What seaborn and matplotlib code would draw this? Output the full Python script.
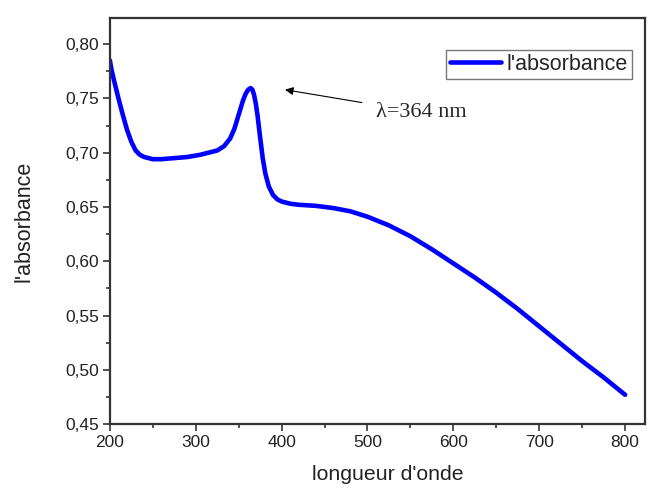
import matplotlib
matplotlib.use("Agg")
import matplotlib.pyplot as plt
import seaborn as sns
import pandas as pd
from matplotlib.ticker import FuncFormatter, MultipleLocator

wavelength = [200, 202, 205, 210, 215, 220, 225, 230, 235, 240, 245, 250, 260, 275,
              290, 305, 315, 325, 333, 340, 345, 350, 355, 358, 361, 364, 366,
              368, 370, 372, 375, 378, 381, 385, 390, 395, 400, 410, 420, 440, 460,
              480, 500, 525, 550, 575, 600, 625, 650, 675, 700, 725, 750, 775, 800]
absorbance = [0.785, 0.776, 0.766, 0.750, 0.735, 0.721, 0.710, 0.702, 0.698, 0.696, 0.695,
              0.694, 0.694, 0.695, 0.696, 0.698, 0.700, 0.702, 0.706, 0.713, 0.722,
              0.735, 0.748, 0.754, 0.758, 0.7595, 0.758, 0.753, 0.745, 0.734, 0.714, 0.695,
              0.681, 0.669, 0.661, 0.657, 0.655, 0.653, 0.652, 0.651, 0.649, 0.646, 0.641,
              0.633, 0.623, 0.611, 0.598, 0.585, 0.571, 0.556, 0.540, 0.524, 0.508, 0.493,
              0.477]

series_name = "l'absorbance"
x_label = "longueur d'onde"
y_label = "l'absorbance"
annot_text = "λ=364 nm"

df = pd.DataFrame({"x": wavelength, "y": absorbance, "s": series_name})

sns.set_style("ticks")
plt.rcParams['font.family'] = ['Liberation Sans', 'DejaVu Sans']

fig = plt.figure(figsize=(6.54, 4.88), dpi=100)
ax = fig.add_axes([0.168, 0.131, 0.818, 0.832])

sns.lineplot(data=df, x="x", y="y", hue="s", palette=["#0000ff"], linewidth=3.3,
             ax=ax, sort=False)

ax.set_xlim(200, 823)
ax.set_ylim(0.45, 0.824)
ax.xaxis.set_major_locator(MultipleLocator(100))
ax.xaxis.set_minor_locator(MultipleLocator(50))
ax.yaxis.set_major_locator(MultipleLocator(0.05))
ax.yaxis.set_minor_locator(MultipleLocator(0.025))
ax.yaxis.set_major_formatter(FuncFormatter(lambda v, p: f"{v:.2f}".replace(".", ",")))

for s in ax.spines.values():
    s.set_visible(True)
    s.set_linewidth(1.6)
    s.set_color("#333333")

ax.tick_params(which="major", direction="out", length=5, width=1.2, labelsize=12.5,
               colors="#333333", labelcolor="#222222", pad=3)
ax.tick_params(which="minor", direction="out", length=3, width=1.2, colors="#333333")

ax.set_xlabel(x_label, fontsize=15.3, labelpad=11, color="#222222")
ax.xaxis.label.set_x(0.52)
ax.set_ylabel(y_label, fontsize=15.5, labelpad=22, color="#222222")

ax.annotate(annot_text, xy=(404, 0.758), xytext=(510, 0.737),
            fontsize=16, family="Liberation Serif", va="center", ha="left",
            arrowprops=dict(arrowstyle="-|>", color="black", lw=0.8,
                            shrinkA=8, shrinkB=0, mutation_scale=12))

leg = ax.legend(loc="upper right", bbox_to_anchor=(0.976, 0.921), fontsize=15.5,
                frameon=True, fancybox=False, handlelength=2.4, borderpad=0.18,
                handletextpad=0.25, borderaxespad=0)
leg.get_frame().set_edgecolor("#555555")
leg.get_frame().set_linewidth(1.0)
for line in leg.get_lines():
    line.set_linewidth(3.3)

fig.savefig("out.png", dpi=100)
